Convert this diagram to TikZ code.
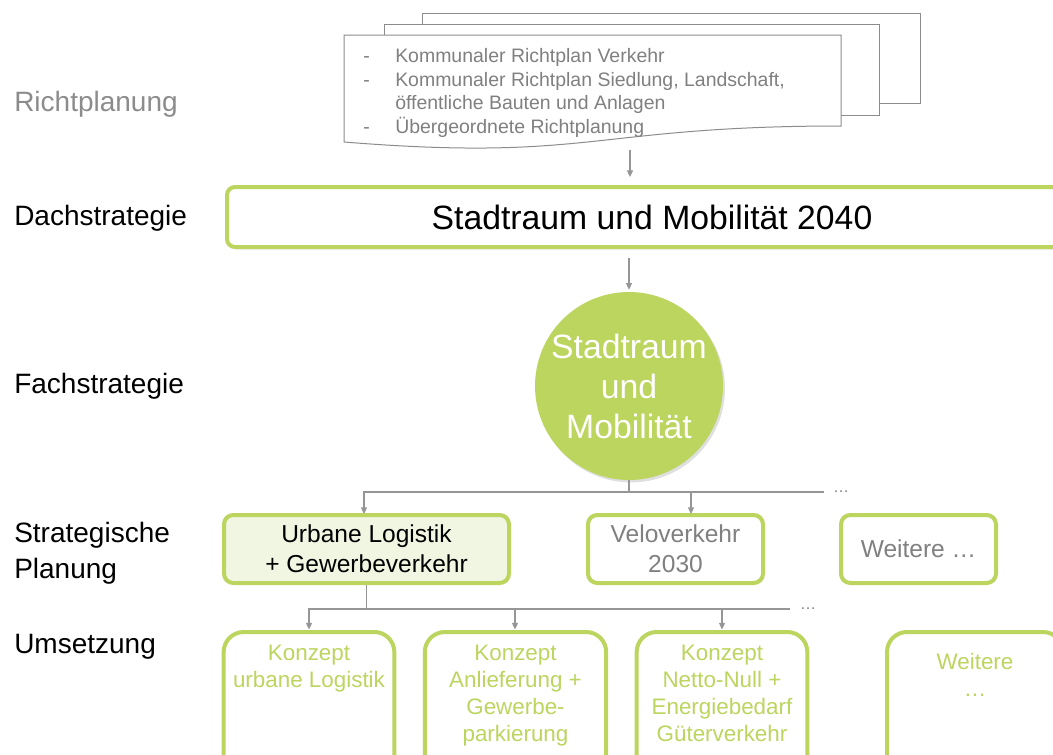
\documentclass[tikz,border=0pt]{standalone}
\usepackage{fontspec}
\setmainfont{Liberation Sans}
\usetikzlibrary{arrows.meta,shadows,calc}
\definecolor{lg}{RGB}{188,213,95}
\definecolor{lgfill}{RGB}{241,246,226}
\definecolor{gtxt}{RGB}{128,128,128}
\definecolor{rtxt}{RGB}{140,140,140}
\definecolor{gline}{RGB}{150,150,150}
\definecolor{pline}{RGB}{140,140,140}
\newcommand\fLab{\fontsize{21pt}{25.5pt}\selectfont}
\newcommand\fDoc{\fontsize{14.6pt}{17.8pt}\selectfont}
\newcommand\fBig{\fontsize{25.3pt}{30pt}\selectfont}
\newcommand\fMid{\fontsize{18.4pt}{22.5pt}\selectfont}
\newcommand\fSm{\fontsize{16.8pt}{20.25pt}\selectfont}
\begin{document}
\begin{tikzpicture}[x=0.75pt,y=-0.75pt,
  lab/.style={anchor=base west,inner sep=0pt,font=\fLab},
  page/.style={draw=pline,line width=0.75pt,fill=white},
  conn/.style={draw=gline,line width=0.9pt,-{Triangle[length=5pt,width=4.5pt]}},
  plain/.style={draw=gline,line width=0.9pt},
  sbox/.style={draw=lg,line width=3pt,rounded corners=7pt,minimum height=51pt,inner sep=0pt,align=center,font=\fMid},
  ubox/.style={draw=lg,line width=3pt,rounded corners=15pt,anchor=north,inner xsep=2pt,inner ysep=9.5pt,text=lg,font=\fSm},
  dots/.style={inner sep=0pt,text=gtxt,font=\fontsize{12pt}{14pt}\selectfont}
]
\clip (0,0) rectangle (1053,754);
\fill[white] (0,0) rectangle (1053,754);

% left labels
\node[lab,text=rtxt] (lRicht) at (14,111) {Richtplanung};
\node[lab] (lDach) at (14,225) {Dachstrategie};
\node[lab] (lFach) at (14,393) {Fachstrategie};
\node[lab,align=left,anchor=north west] (lStrat) at (14,522) {Strategische\\[1.5pt]Planung};
\node[lab] (lUms) at (14,653) {Umsetzung};

% document stack
\draw[page] (422,13) rectangle (920,103);
\draw[page] (384,24) rectangle (879,115);
\draw[page] (344,35) -- (841,35) -- (841,126)
  .. controls (592,126) and (592,162) .. (344,142) -- cycle;
\node[anchor=north west,inner sep=0pt,text=gtxt,font=\fDoc] (doc) at (363,45.5)
  {\begin{tabular}{@{}p{24pt}@{}l@{}}
   -&Kommunaler Richtplan Verkehr\\
   -&Kommunaler Richtplan Siedlung, Landschaft,\\
    &öffentliche Bauten und Anlagen\\
   -&Übergeordnete Richtplanung
   \end{tabular}};
\coordinate (docbot) at (630,150);

% Dachstrategie
\node[draw=lg,line width=3pt,rounded corners=6pt,fill=white,minimum width=637.5pt,minimum height=45pt,
  drop shadow={shadow xshift=1.2pt,shadow yshift=-1.8pt,opacity=0.25},font=\fBig] (dach) at (652,217)
  {Stadtraum und Mobilität 2040};

% Fachstrategie circle
\node[circle,fill=lg,minimum size=141pt,inner sep=0pt,text=white,align=center,font=\fBig,
  drop shadow={shadow xshift=1.5pt,shadow yshift=-1.8pt,opacity=0.25}] (circ) at (629,386)
  {Stadtraum\\und\\Mobilität};

% strategic planning boxes
\node[sbox,fill=lgfill,minimum width=213.75pt] (sp1) at (366.5,549) {Urbane Logistik\\+ Gewerbeverkehr};
\node[sbox,fill=white,text=gtxt,minimum width=131.25pt] (sp2) at (675.5,549) {Veloverkehr\\2030};
\node[sbox,fill=white,text=gtxt,minimum width=116.25pt] (sp3) at (918.5,549) {Weitere …};

% Umsetzung boxes
\node[ubox,minimum width=127.5pt] (u1) at (309,630)
  {\parbox[t][130pt][t]{124pt}{\centering Konzept\\urbane Logistik\par}};
\node[ubox,minimum width=135.75pt] (u2) at (515.5,630)
  {\parbox[t][130pt][t]{132pt}{\centering Konzept\\Anlieferung +\\Gewerbe-\\parkierung\par}};
\node[ubox,minimum width=127.5pt] (u3) at (722,630)
  {\parbox[t][130pt][t]{124pt}{\centering Konzept\\Netto-Null +\\Energiebedarf\\Güterverkehr\par}};
\node[ubox,minimum width=132pt,inner ysep=16pt] (u4) at (975,630)
  {\parbox[t][130pt][t]{128pt}{\centering Weitere\\…\par}};

% connectors
\draw[conn,shorten >=6pt] (docbot) -- (docbot |- dach.north);
\draw[conn,shorten <=6.5pt,shorten >=1.5pt] (dach.south -| circ.north) -- (circ.north);

\coordinate (b1) at (629,492);
\coordinate (b1e) at (824,492);
\draw[plain] (circ.south) -- (b1);
\draw[plain] (b1) -- (b1e);
\draw[conn] (b1) -| ($(sp1.north)+(-2.5,1)$);
\draw[conn] (b1) -| ($(sp2.north)+(15.5,1)$);
\node[dots] (d1) at (841,492) {…};

\coordinate (b2) at (366.5,609);
\coordinate (b2e) at (790,609);
\draw[plain] (sp1.south) -- (b2);
\draw[plain] (b2) -- (b2e);
\draw[conn] (b2) -| ($(u1.north)+(0,-0.5)$);
\draw[conn] (b2) -| ($(u2.north)+(-0.5,-0.5)$);
\draw[conn] (b2) -| ($(u3.north)+(0,-0.5)$);
\node[dots] (d2) at (808,609) {…};
\end{tikzpicture}
\end{document}
